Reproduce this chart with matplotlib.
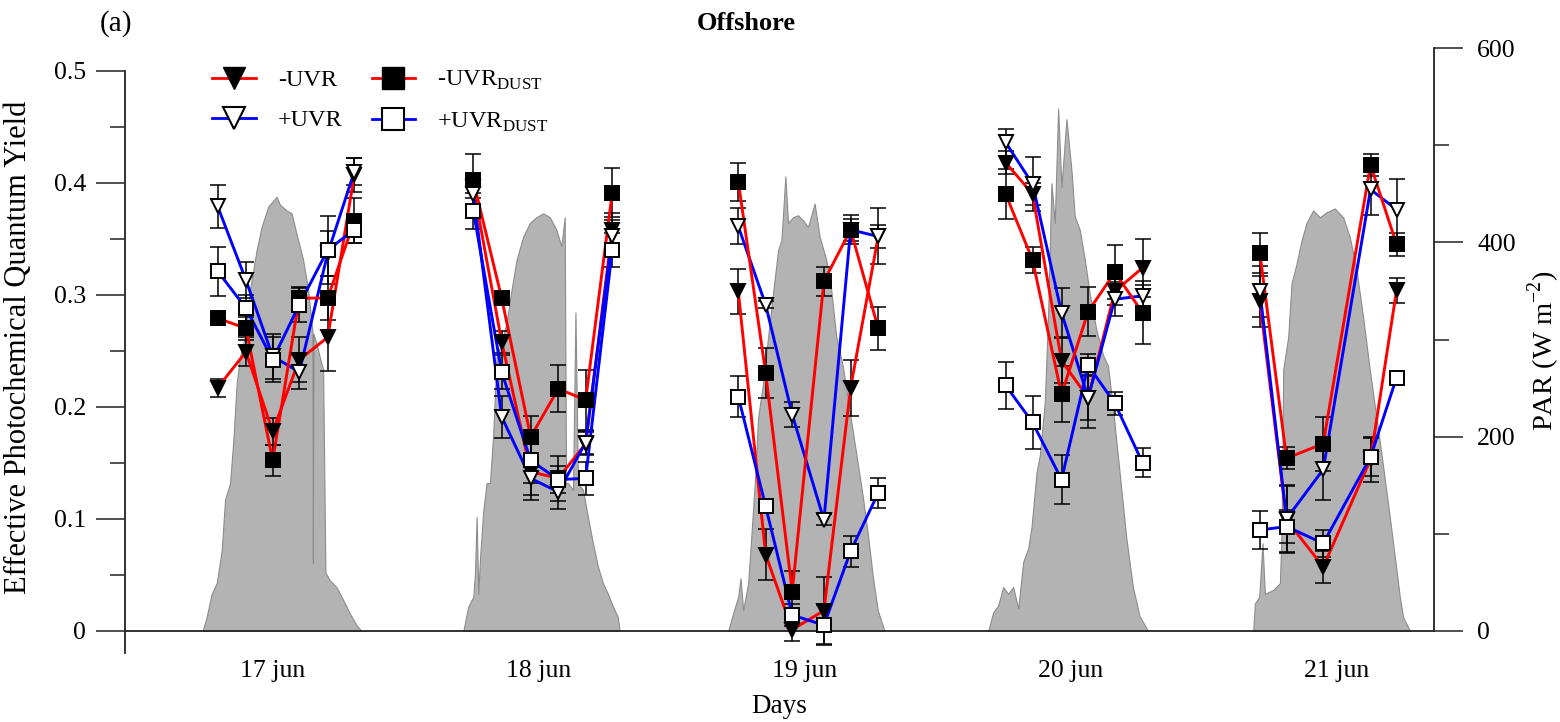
import matplotlib.pyplot as plt
from matplotlib.lines import Line2D
from matplotlib.ticker import MultipleLocator, FuncFormatter

plt.rcParams['font.family'] = ['Liberation Serif', 'DejaVu Serif']
plt.rcParams['mathtext.fontset'] = 'custom'
plt.rcParams['mathtext.rm'] = 'Liberation Serif'

# sampling times, hours from 00:00 on 17 jun
SAMPLE_HOURS = [
    [7.0, 9.56, 11.97, 14.37, 16.94, 19.34],
    [30.08, 32.64, 35.26, 37.75, 40.22, 42.62],
    [54.0, 56.47, 58.87, 61.73, 64.14, 66.63],
    [78.13, 80.56, 83.18, 85.58, 87.99, 90.49],
    [101.08, 103.49, 106.8, 111.07, 113.42],
]

minus_uvr = [
    [0.217, 0.249, 0.178, 0.242, 0.262, 0.407],
    [0.396, 0.258, 0.142, 0.136, 0.167, 0.358],
    [0.303, 0.068, 0.001, 0.018, 0.217, 0.352],
    [0.418, 0.390, 0.241, 0.208, 0.303, 0.324],
    [0.294, 0.099, 0.057, 0.153, 0.304],
]
minus_uvr_err = [
    [0.008, 0.013, 0.012, 0.020, 0.030, 0.015],
    [0.010, 0.010, 0.025, 0.020, 0.010, 0.015],
    [0.020, 0.023, 0.010, 0.030, 0.025, 0.025],
    [0.010, 0.010, 0.020, 0.027, 0.012, 0.026],
    [0.023, 0.030, 0.014, 0.020, 0.011],
]
plus_uvr = [
    [0.379, 0.313, 0.245, 0.231, 0.337, 0.410],
    [0.390, 0.191, 0.136, 0.124, 0.168, 0.352],
    [0.361, 0.291, 0.193, 0.099, 0.358, 0.352],
    [0.436, 0.399, 0.284, 0.208, 0.296, 0.299],
    [0.303, 0.100, 0.144, 0.394, 0.376],
]
plus_uvr_err = [
    [0.019, 0.016, 0.020, 0.015, 0.020, 0.012],
    [0.016, 0.019, 0.015, 0.015, 0.010, 0.015],
    [0.016, 0.003, 0.011, 0.005, 0.010, 0.010],
    [0.012, 0.024, 0.022, 0.020, 0.015, 0.010],
    [0.023, 0.030, 0.027, 0.023, 0.027],
]
minus_dust = [
    [0.279, 0.270, 0.152, 0.297, 0.297, 0.366],
    [0.402, 0.297, 0.173, 0.216, 0.206, 0.391],
    [0.401, 0.230, 0.035, 0.312, 0.358, 0.270],
    [0.390, 0.331, 0.211, 0.285, 0.320, 0.284],
    [0.337, 0.154, 0.167, 0.416, 0.345],
]
minus_dust_err = [
    [0.004, 0.010, 0.014, 0.010, 0.020, 0.020],
    [0.024, 0.005, 0.019, 0.021, 0.027, 0.022],
    [0.017, 0.022, 0.018, 0.013, 0.013, 0.019],
    [0.022, 0.012, 0.025, 0.022, 0.024, 0.028],
    [0.018, 0.010, 0.024, 0.010, 0.010],
]
plus_dust = [
    [0.321, 0.288, 0.242, 0.291, 0.340, 0.358],
    [0.375, 0.231, 0.152, 0.135, 0.136, 0.340],
    [0.209, 0.111, 0.014, 0.005, 0.071, 0.123],
    [0.219, 0.186, 0.135, 0.237, 0.203, 0.150],
    [0.090, 0.093, 0.078, 0.155, 0.226],
]
plus_dust_err = [
    [0.022, 0.012, 0.020, 0.015, 0.030, 0.012],
    [0.016, 0.015, 0.020, 0.012, 0.015, 0.015],
    [0.018, 0.005, 0.010, 0.018, 0.014, 0.013],
    [0.021, 0.024, 0.022, 0.010, 0.010, 0.013],
    [0.017, 0.015, 0.012, 0.017, 0.005],
]

# PAR record (W m-2), one list per day
PAR_HOURS = [
    [5.65, 6.01, 6.46, 6.92, 7.37, 7.67, 8.12, 8.42, 8.72, 9.02, 9.47, 9.92,
     10.52, 10.97, 11.57, 12.32, 12.62, 13.22, 13.67, 14.12, 14.72, 15.17,
     15.55, 15.6, 15.65, 15.92, 16.37, 16.52, 16.73, 17.12, 17.72, 18.32,
     18.92, 19.52, 19.97],
    [29.18, 29.63, 30.08, 30.23, 30.38, 30.53, 30.68, 30.98, 31.28, 31.58,
     31.88, 32.18, 32.63, 33.08, 33.53, 33.98, 34.58, 35.18, 35.78, 36.38,
     36.98, 37.58, 38.03, 38.33, 38.45, 38.63, 39.08, 39.3, 39.53, 39.98,
     40.43, 40.88, 41.33, 41.78, 42.23, 42.68, 43.13, 43.28],
    [53.09, 53.54, 53.99, 54.2, 54.44, 54.89, 55.19, 55.49, 55.79, 56.24,
     56.69, 57.14, 57.59, 57.89, 58.25, 58.49, 58.94, 59.39, 59.84, 60.29,
     60.89, 61.34, 61.94, 62.39, 62.84, 63.44, 64.04, 64.64, 65.24, 65.69,
     66.14, 66.59, 67.19],
    [76.56, 77.01, 77.46, 77.91, 78.36, 78.81, 79.27, 79.72, 80.17, 80.47,
     80.92, 81.22, 81.67, 81.97, 82.27, 82.57, 82.87, 83.17, 83.62, 84.07,
     84.37, 84.82, 85.27, 85.72, 86.32, 86.92, 87.37, 87.82, 88.42, 89.02,
     89.62, 90.22, 90.98],
    [100.48, 100.63, 101.02, 101.32, 101.53, 102.28, 102.89, 103.04, 103.19,
     103.64, 103.94, 104.39, 104.84, 105.29, 105.89, 106.49, 107.09, 107.84,
     108.59, 109.19, 109.80, 110.40, 111.00, 111.60, 112.21, 112.81, 113.41,
     113.71, 114.01, 114.62],
]
PAR_VALUES = [
    [0, 14, 38, 49, 83, 135, 152, 196, 255, 282, 303, 351,
     392, 416, 437, 447, 439, 433, 430, 409, 382, 351,
     310, 70, 306, 296, 275, 270, 60, 52, 45, 32,
     18, 6, 0],
    [0, 25, 35, 59, 117, 38, 73, 124, 152, 152,
     203, 282, 296, 317, 351, 382, 406, 420, 426, 430,
     426, 413, 396, 426, 152, 152, 145, 328, 152, 145,
     117, 90, 66, 49, 38, 25, 14, 0],
    [0, 18, 35, 54, 21, 49, 100, 152, 220, 255,
     303, 348, 392, 402, 468, 420, 426, 428, 423, 416,
     440, 406, 382, 351, 303, 272, 227, 183, 138, 100,
     56, 21, 0],
    [0, 19, 26, 45, 38, 45, 23, 71, 85, 107,
     163, 181, 236, 328, 461, 420, 538, 457, 527, 475,
     427, 413, 383, 347, 310, 284, 273, 229, 163, 96,
     45, 15, 0],
    [0, 28, 35, 90, 38, 42, 49, 104, 269,
     303, 358, 378, 402, 420, 433, 426, 431, 435,
     426, 406, 372, 323, 269, 220, 169, 117, 63,
     35, 14, 0],
]

DAY_TICKS = [12, 36, 60, 84, 108]
DAY_LABELS = ['17 jun', '18 jun', '19 jun', '20 jun', '21 jun']

W, H = 1560, 722
fig = plt.figure(figsize=(W / 100, H / 100), dpi=100)
ax = fig.add_axes([125 / W, 69.3 / H, 1309 / W, 604.4 / H])
ax2 = ax.twinx()
ax.set_zorder(ax2.get_zorder() + 1)
ax.patch.set_visible(False)

# PAR on the right axis
for hrs, vals in zip(PAR_HOURS, PAR_VALUES):
    ax2.fill_between(hrs, 0, vals, facecolor='#b3b3b3', edgecolor='#8c8c8c',
                     linewidth=0.8)

series = [
    (minus_uvr, minus_uvr_err, 'red', 'v', 'black'),
    (plus_uvr, plus_uvr_err, 'blue', 'v', 'white'),
    (minus_dust, minus_dust_err, 'red', 's', 'black'),
    (plus_dust, plus_dust_err, 'blue', 's', 'white'),
]
for vals, errs, col, mk, face in series:
    for hrs, v, e in zip(SAMPLE_HOURS, vals, errs):
        ax.errorbar(hrs, v, yerr=e, fmt='none', ecolor='black', elinewidth=1.1,
                    capsize=5.5, capthick=1.1, zorder=3)
        ax.plot(hrs, v, color=col, linewidth=2.1, zorder=4)
for vals, errs, col, mk, face in series:
    for hrs, v in zip(SAMPLE_HOURS, vals):
        ax.plot(hrs, v, linestyle='none', marker=mk, markersize=10.5,
                markerfacecolor=face, markeredgecolor='black',
                markeredgewidth=1.4, zorder=5)

ax.axhline(0, color='#222222', linewidth=1.3, zorder=2)

# axis limits and spines
ax.set_xlim(-1.36, 116.8)
ax.set_ylim(-0.0196, 0.52)
ax2.set_ylim(-22.66, 600)
for a in (ax, ax2):
    a.spines['top'].set_visible(False)
    a.spines['bottom'].set_visible(False)
ax.spines['right'].set_visible(False)
ax2.spines['left'].set_visible(False)
ax.spines['left'].set_bounds(-0.0196, 0.5)
ax2.spines['right'].set_bounds(0, 600)
for sp in (ax.spines['left'], ax2.spines['right']):
    sp.set_linewidth(1.3)
    sp.set_color('#222222')

ax.yaxis.set_major_formatter(FuncFormatter(lambda v, p: '0' if abs(v) < 1e-9 else f'{v:.1f}'))
ax.set_yticks([0.0, 0.1, 0.2, 0.3, 0.4, 0.5])
ax.set_yticks([0.05, 0.15, 0.25, 0.35, 0.45], minor=True)
ax2.yaxis.set_major_locator(MultipleLocator(200))
ax2.yaxis.set_minor_locator(MultipleLocator(100))
ax.tick_params(axis='y', which='major', length=21, width=1.1, pad=7,
               labelsize=18.5, color='#222222')
ax.tick_params(axis='y', which='minor', length=10.5, width=1.1, color='#222222')
ax2.tick_params(axis='y', which='major', length=21, width=1.1, pad=10,
                labelsize=18.5, color='#222222')
ax2.tick_params(axis='y', which='minor', length=10.5, width=1.1, color='#222222')

ax.set_xticks(DAY_TICKS)
ax.set_xticklabels(DAY_LABELS)
ax.tick_params(axis='x', length=0, pad=5, labelsize=18.5)

ax.set_ylabel('Effective Photochemical Quantum Yield', fontsize=22)
ax.yaxis.set_label_coords((33 - 125) / 1309, 0.505)
ax2.set_ylabel(r'PAR (W m$^{\mathregular{-2}}$)', fontsize=20.5)
ax2.yaxis.set_label_coords((1526 - 125) / 1309, 0.5)
ax.set_xlabel('Days', fontsize=19.5, labelpad=9)

fig.text(746 / W, 1 - 24 / H, 'Offshore', ha='center', va='center',
         fontsize=19, fontweight='bold')
fig.text(100 / W, 1 - 24 / H, '(a)', ha='left', va='center', fontsize=21)

handles = [
    Line2D([], [], color='red', lw=2, marker='v', ms=16, mfc='black', mec='black'),
    Line2D([], [], color='blue', lw=2, marker='v', ms=16, mfc='white', mec='black', mew=1.5),
    Line2D([], [], color='red', lw=2, marker='s', ms=16, mfc='black', mec='black'),
    Line2D([], [], color='blue', lw=2, marker='s', ms=16, mfc='white', mec='black', mew=1.5),
]
labels = ['-UVR', '+UVR', r'-UVR$_{\mathregular{DUST}}$', r'+UVR$_{\mathregular{DUST}}$']
ax.legend(handles, labels, ncol=2, loc='upper left', frameon=False,
          bbox_to_anchor=(200 / W, 1 - 57 / H), bbox_transform=fig.transFigure,
          fontsize=17.5, handlelength=1.8, handletextpad=0.9, columnspacing=1.2,
          labelspacing=0.75, borderpad=0)

fig.savefig('out.png', dpi=100)
